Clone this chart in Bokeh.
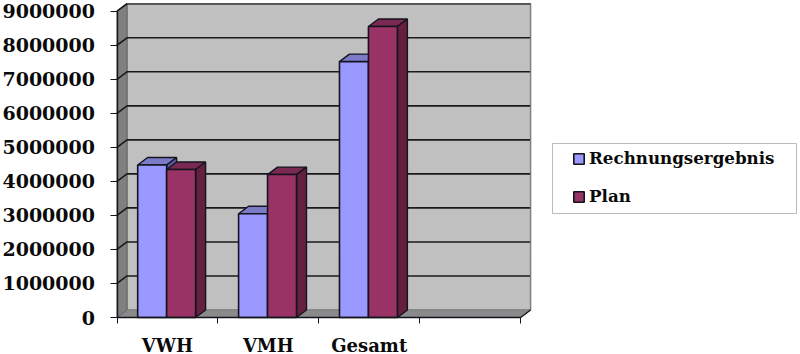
from bokeh.plotting import figure
from bokeh.models import FixedTicker, Range1d, Legend, LegendItem, BoxAnnotation
from bokeh.embed import file_html
from bokeh.resources import INLINE

categories = ["VWH", "VMH", "Gesamt", ""]
rechnungsergebnis = [4480000, 3050000, 7520000]
plan = [4350000, 4200000, 8550000]
y_ticks = [0, 1000000, 2000000, 3000000, 4000000, 5000000, 6000000, 7000000, 8000000, 9000000]

DX, DY = 0.099, 220000      # 3-D depth in data units
BW = 0.287
FONT = "DejaVu Serif"
DARK = "#14141e"
colors = [("#9999ff", "#7b7bc8", "#5a5aa0"), ("#993366", "#7a2952", "#66203f")]

PX_X = 100.9      # pixels per category
PX_Y = 34.03e-6   # pixels per unit
X0, Y0 = 116.5, 317.0

p = figure(width=800, height=354, output_backend="svg", toolbar_location=None,
           x_range=Range1d(-X0 / PX_X, (800 - X0) / PX_X),
           y_range=Range1d(-(354 - Y0) / PX_Y, Y0 / PX_Y),
           min_border=0, outline_line_color=None, background_fill_color="white")
p.styles = {"position": "absolute", "left": "0px", "top": "0px"}
p.grid.visible = False

n = len(categories)
ymax = y_ticks[-1]
# walls
p.patch([DX, n + DX, n + DX, DX], [DY, DY, ymax + DY, ymax + DY], fill_color="#c0c0c0",
        line_color="#808080", line_width=1.5)
p.patch([0, n, n + DX, DX], [0, 0, DY, DY], fill_color="#8a8a8a", line_color="#808080", line_width=1)
p.patch([0, DX, DX, 0], [0, DY, ymax + DY, ymax], fill_color="#808080", line_color="#666666", line_width=1)
# gridlines
for v in y_ticks[1:]:
    p.line([0, DX, n + DX - 0.005], [v, v + DY, v + DY], line_color="#1a1a1a", line_width=1.6)
p.line([DX, n + DX], [ymax + DY, ymax + DY], line_color="#555555", line_width=1.6)
p.line([n, n + DX], [0, DY], line_color="#1a1a1a", line_width=1.4)

rends = []
for i in range(3):
    for s, (vals, off) in enumerate(((rechnungsergebnis, 0.205), (plan, 0.492))):
        x0, x1, v = i + off, i + off + BW, vals[i]
        front, top, side = colors[s]
        p.patch([x0, x1, x1 + DX, x0 + DX], [v, v, v + DY, v + DY], fill_color=top, line_color=DARK, line_width=1.4)
        p.patch([x1, x1 + DX, x1 + DX, x1], [0, DY, v + DY, v], fill_color=side, line_color=DARK, line_width=1.4)
        r = p.quad(left=x0, right=x1, bottom=0, top=v, fill_color=front, line_color=DARK, line_width=1.6)
        if i == 0:
            rends.append(r)

# axes
xa = p.xaxis[0]
xa.fixed_location = 0
xa.ticker = FixedTicker(ticks=[0.5, 1.5, 2.5], minor_ticks=[0, 1, 2, 3, 4])
xa.major_label_overrides = {0.5: categories[0], 1.5: categories[1], 2.5: categories[2]}
xa.bounds = (0, 4)
xa.major_tick_line_color = None
xa.minor_tick_out = 6
xa.minor_tick_in = 0
xa.minor_tick_line_color = DARK
xa.axis_line_color = DARK
xa.axis_line_width = 1.6
xa.major_label_standoff = 11
xa.major_label_text_font = FONT
xa.major_label_text_font_style = "bold"
xa.major_label_text_font_size = "18px"
xa.major_label_text_color = "#0a0a0a"

ya = p.yaxis[0]
ya.fixed_location = 0
ya.ticker = FixedTicker(ticks=y_ticks)
ya.bounds = (0, ymax)
ya.minor_tick_line_color = None
ya.major_tick_out = 7
ya.major_tick_in = 0
ya.major_tick_line_color = DARK
ya.axis_line_color = DARK
ya.axis_line_width = 1.4
ya.major_label_standoff = 15
ya.major_label_text_font = FONT
ya.major_label_text_font_style = "bold"
ya.major_label_text_font_size = "19px"
ya.major_label_text_color = "#0a0a0a"
ya.formatter.use_scientific = False

# legend frame and legend
p.add_layout(BoxAnnotation(left=552, right=796, top=354 - 143, bottom=354 - 213,
                           left_units="screen", right_units="screen", top_units="screen", bottom_units="screen",
                           fill_color="white", fill_alpha=1, line_color="#222222", line_width=1, level="overlay"))
legend = Legend(items=[LegendItem(label="Rechnungsergebnis", renderers=[rends[0]]),
                       LegendItem(label="Plan", renderers=[rends[1]])],
                location=(572, 148), orientation="vertical", level="overlay",
                label_text_font=FONT, label_text_font_style="bold", label_text_font_size="16.7px",
                label_text_color="#0a0a0a", glyph_width=13, glyph_height=13, label_standoff=4,
                padding=0, spacing=18, margin=0, border_line_color=None,
                background_fill_alpha=0)
p.add_layout(legend, "center")

open("out.html", "w").write(file_html(p, INLINE))
